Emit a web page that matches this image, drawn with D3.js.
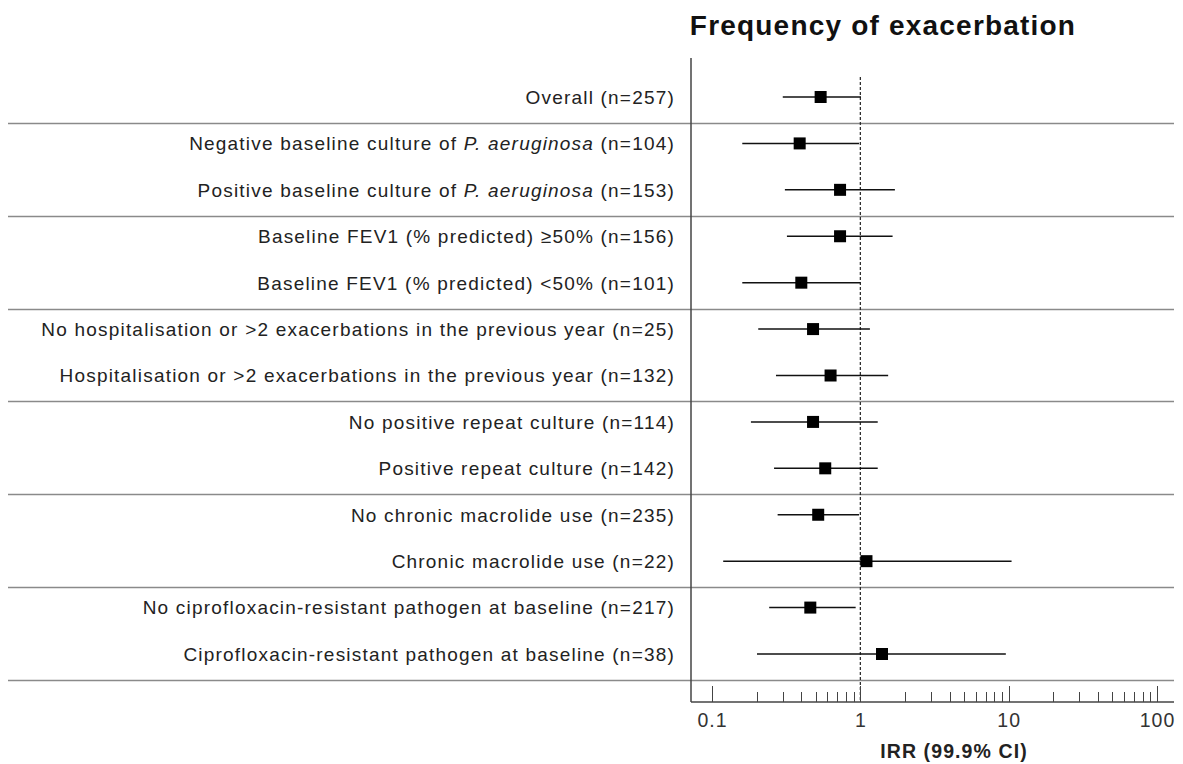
<!DOCTYPE html>
<html>
<head>
	<title>Forest plot</title>
	<script src="https://d3js.org/d3.v7.min.js" charset="utf-8"></script>
	<style>
		body { margin: 0; background: #fff; }
		text { font-family: "Liberation Sans", Arial, sans-serif; }
	</style>
</head>
<body>
<script type="text/javascript">
	// subgroup labels (text between * is italic)
	var labels = [
		"Overall (n=257)",
		"Negative baseline culture of *P. aeruginosa* (n=104)",
		"Positive baseline culture of *P. aeruginosa* (n=153)",
		"Baseline FEV1 (% predicted) \u226550% (n=156)",
		"Baseline FEV1 (% predicted) <50% (n=101)",
		"No hospitalisation or >2 exacerbations in the previous year (n=25)",
		"Hospitalisation or >2 exacerbations in the previous year (n=132)",
		"No positive repeat culture (n=114)",
		"Positive repeat culture (n=142)",
		"No chronic macrolide use (n=235)",
		"Chronic macrolide use (n=22)",
		"No ciprofloxacin-resistant pathogen at baseline (n=217)",
		"Ciprofloxacin-resistant pathogen at baseline (n=38)"
	];
	var irr   = [0.54, 0.39, 0.73, 0.73, 0.40, 0.48, 0.63, 0.48, 0.58, 0.52, 1.10, 0.46, 1.40];
	var lower = [0.30, 0.16, 0.31, 0.32, 0.16, 0.205, 0.27, 0.183, 0.262, 0.277, 0.119, 0.243, 0.201];
	var upper = [1.01, 0.98, 1.71, 1.65, 1.00, 1.16, 1.54, 1.31, 1.31, 0.98, 10.46, 0.93, 9.57];
	// rows after which a group separator is drawn
	var groupEnds = [0, 2, 4, 6, 8, 10, 12];
	var majorTicks = [0.1, 1, 10, 100];

	var svgWidth = 1183, svgHeight = 764;

	var svg = d3.select("body")
		.append("svg")
		.attr("width", svgWidth)
		.attr("height", svgHeight);

	var x = d3.scaleLog().domain([0.1, 100]).range([712, 1157]);
	var y = d3.scalePoint().domain(d3.range(labels.length)).range([97, 654]);
	var step = y.step();

	var axisLeft = 691, axisRight = 1174, axisY = 702;

	// title
	svg.append("text")
		.attr("x", 883)
		.attr("y", 35)
		.attr("text-anchor", "middle")
		.attr("font-size", 28)
		.attr("font-weight", "bold")
		.attr("letter-spacing", 1.2)
		.attr("fill", "#111")
		.text("Frequency of exacerbation");

	// group separators
	svg.selectAll(".sep")
		.data(groupEnds)
		.enter().append("line")
		.attr("class", "sep")
		.attr("x1", 8)
		.attr("x2", axisRight)
		.attr("y1", function(d) { return Math.round(y(d) + step * 0.56) + 0.5; })
		.attr("y2", function(d) { return Math.round(y(d) + step * 0.56) + 0.5; })
		.attr("stroke", "#8a8a8a")
		.attr("stroke-width", 1.3);

	// vertical axis line
	svg.append("line")
		.attr("x1", axisLeft).attr("x2", axisLeft)
		.attr("y1", 58).attr("y2", axisY)
		.attr("stroke", "#444")
		.attr("stroke-width", 1.5);

	// reference line at IRR = 1
	svg.append("line")
		.attr("x1", x(1)).attr("x2", x(1))
		.attr("y1", 77).attr("y2", axisY)
		.attr("stroke", "#222")
		.attr("stroke-width", 1.2)
		.attr("stroke-dasharray", "3,2");

	// x axis baseline
	svg.append("line")
		.attr("x1", axisLeft).attr("x2", axisRight)
		.attr("y1", axisY).attr("y2", axisY)
		.attr("stroke", "#444")
		.attr("stroke-width", 1.5);

	// ticks: major + minor (2..9 of each decade)
	var allTicks = x.ticks();
	svg.selectAll(".tick")
		.data(allTicks)
		.enter().append("line")
		.attr("class", "tick")
		.attr("x1", function(d) { return Math.round(x(d)) + 0.5; })
		.attr("x2", function(d) { return Math.round(x(d)) + 0.5; })
		.attr("y1", function(d) { return majorTicks.indexOf(+d.toPrecision(6)) >= 0 ? axisY - 16 : axisY - 10; })
		.attr("y2", axisY)
		.attr("stroke", "#444")
		.attr("stroke-width", 1);

	svg.selectAll(".tlab")
		.data(majorTicks)
		.enter().append("text")
		.attr("class", "tlab")
		.attr("x", function(d) { return x(d) + 0.5; })
		.attr("y", 727)
		.attr("text-anchor", "middle")
		.attr("font-size", 19.5)
		.attr("letter-spacing", 1)
		.attr("fill", "#333")
		.text(function(d) { return d; });

	svg.append("text")
		.attr("x", 954)
		.attr("y", 758)
		.attr("text-anchor", "middle")
		.attr("font-size", 19.5)
		.attr("font-weight", "bold")
		.attr("letter-spacing", 1.1)
		.attr("fill", "#222")
		.text("IRR (99.9% CI)");

	// row labels
	var lab = svg.selectAll(".lab")
		.data(labels)
		.enter().append("text")
		.attr("class", "lab")
		.attr("x", 675)
		.attr("y", function(d, i) { return y(i); })
		.attr("dy", "0.36em")
		.attr("text-anchor", "end")
		.attr("font-size", 19)
		.attr("letter-spacing", 1.2)
		.attr("fill", "#222");

	lab.each(function(d) {
		var parts = d.split("*");
		var t = d3.select(this);
		parts.forEach(function(p, k) {
			t.append("tspan")
				.attr("font-style", k % 2 === 1 ? "italic" : "normal")
				.text(p);
		});
	});

	// confidence intervals
	svg.selectAll(".ci")
		.data(labels)
		.enter().append("line")
		.attr("class", "ci")
		.attr("x1", function(d, i) { return x(lower[i]); })
		.attr("x2", function(d, i) { return x(upper[i]); })
		.attr("y1", function(d, i) { return y(i); })
		.attr("y2", function(d, i) { return y(i); })
		.attr("stroke", "#111")
		.attr("stroke-width", 1.5);

	// point estimates
	svg.selectAll(".pt")
		.data(labels)
		.enter().append("rect")
		.attr("class", "pt")
		.attr("x", function(d, i) { return x(irr[i]) - 6; })
		.attr("y", function(d, i) { return y(i) - 6; })
		.attr("width", 12)
		.attr("height", 12)
		.attr("fill", "#000");
</script>
</body>
</html>
